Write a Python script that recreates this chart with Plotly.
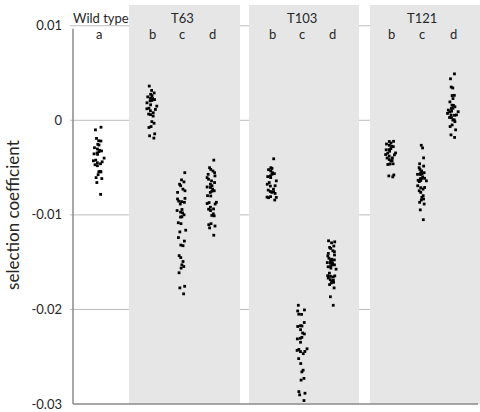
import plotly.graph_objects as go

# ---------------- data (selection coefficients) ----------------
group_names = ["Wild type", "T63", "T103", "T121"]
sub_labels = [["a"], ["b", "c", "d"], ["b", "c", "d"], ["b", "c", "d"]]
y_tick_vals = [-0.03, -0.02, -0.01, 0.0, 0.01]
y_tick_text = ["-0.03", "-0.02", "-0.01", "0", "0.01"]

wt_a = [-0.00073, -0.00101, -0.00191, -0.00216, -0.00219, -0.00254, -0.00261, -0.00290,
        -0.00303, -0.00317, -0.00324, -0.00331, -0.00345, -0.00355, -0.00360, -0.00400,
        -0.00421, -0.00428, -0.00439, -0.00449, -0.00460, -0.00470, -0.00480, -0.00543,
        -0.00540, -0.00546, -0.00574, -0.00606, -0.00616, -0.00658, -0.00783]

t63_b = [0.00362, 0.00316, 0.00289, 0.00275, 0.00261, 0.00248, 0.00233, 0.00230, 0.00219,
         0.00210, 0.00206, 0.00185, 0.00164, 0.00150, 0.00128, 0.00122, 0.00115, 0.00101,
         0.00080, 0.00066, 0.00060, 0.00045, -0.00014, -0.00031, -0.00066, -0.00076,
         -0.00143, -0.00164, -0.00188]

t63_c = [-0.00554, -0.00630, -0.00651, -0.00676, -0.00692, -0.00728, -0.00745, -0.00762,
         -0.00867, -0.00885, -0.00979, -0.00943, -0.01083, -0.01180, -0.01240, -0.01326,
         -0.01431, -0.01528, -0.01612, -0.01755, -0.01835, -0.00832, -0.00860, -0.00999,
         -0.01023, -0.01093, -0.01162, -0.01319, -0.01452, -0.01493, -0.01546, -0.01563,
         -0.01772, -0.00825, -0.00855, -0.00954, -0.00971, -0.01020, -0.01277]

t63_d = [-0.00421, -0.00501, -0.00519, -0.00536, -0.00554, -0.00571, -0.00588, -0.00606,
         -0.00623, -0.00640, -0.00658, -0.00676, -0.00692, -0.00710, -0.00705, -0.00728,
         -0.00745, -0.00762, -0.00797, -0.00867, -0.00885, -0.00880, -0.00937, -0.00989,
         -0.01006, -0.01093, -0.01118, -0.01138, -0.01215, -0.00750, -0.00800, -0.00870,
         -0.00919, -0.00940, -0.00954, -0.01010, -0.01104]

t103_b = [-0.00407, -0.00501, -0.00509, -0.00522, -0.00536, -0.00554, -0.00564, -0.00571,
          -0.00588, -0.00595, -0.00606, -0.00640, -0.00658, -0.00676, -0.00692, -0.00695,
          -0.00728, -0.00738, -0.00752, -0.00755, -0.00762, -0.00773, -0.00807, -0.00815,
          -0.00812, -0.00818, -0.00843]

t103_c = [-0.01956, -0.02005, -0.02016, -0.02050, -0.02052, -0.02138, -0.02172, -0.02175,
          -0.02180, -0.02214, -0.02249, -0.02259, -0.02295, -0.02305, -0.02311, -0.02347,
          -0.02416, -0.02423, -0.02433, -0.02444, -0.02446, -0.02468, -0.02520, -0.02572,
          -0.02642, -0.02660, -0.02729, -0.02747, -0.02869, -0.02886, -0.02903, -0.02963]

t103_d = [-0.01274, -0.01295, -0.01344, -0.01389, -0.01424, -0.01476, -0.01493, -0.01528,
          -0.01546, -0.01643, -0.01657, -0.01702, -0.01285, -0.01329, -0.01355, -0.01379,
          -0.01407, -0.01434, -0.01459, -0.01483, -0.01511, -0.01469, -0.01515, -0.01563,
          -0.01616, -0.01650, -0.01685, -0.01713, -0.01737, -0.01772, -0.01866, -0.01956,
          -0.01504, -0.01530, -0.01549, -0.01645, -0.01668, -0.01692, -0.01720, -0.01574]

t121_b = [-0.00222, -0.00251, -0.00275, -0.00300, -0.00327, -0.00362, -0.00397, -0.00425,
          -0.00460, -0.00224, -0.00264, -0.00310, -0.00365, -0.00399, -0.00431, -0.00467,
          -0.00588, -0.00240, -0.00278, -0.00312, -0.00345, -0.00379, -0.00415, -0.00348,
          -0.00462, -0.00578, -0.00598]

t121_c = [-0.00264, -0.00292, -0.00397, -0.00460, -0.00484, -0.00501, -0.00536, -0.00571,
          -0.00598, -0.00519, -0.00554, -0.00573, -0.00613, -0.00634, -0.00556, -0.00615,
          -0.00640, -0.00564, -0.00617, -0.00636, -0.00648, -0.00692, -0.00710, -0.00728,
          -0.00832, -0.00843, -0.00712, -0.00762, -0.00815, -0.00885, -0.00947, -0.00745,
          -0.00797, -0.00867, -0.01051]

t121_d = [0.00491, 0.00439, 0.00352, 0.00342, 0.00264, 0.00195, 0.00160, 0.00125, 0.00091,
          0.00055, 0.00028, 0.00262, 0.00230, 0.00158, 0.00127, 0.00097, 0.00073, 0.00053,
          0.00003, -0.00049, -0.00101, -0.00154, -0.00181, 0.00143, 0.00108, 0.00089,
          0.00057, 0.00030, -0.00014, -0.00066, 0.00005]

series = [[wt_a], [t63_b, t63_c, t63_d], [t103_b, t103_c, t103_d], [t121_b, t121_c, t121_d]]

# ---------------- layout geometry (x axis in pixel-like units) ----------------
W, H = 480, 412
ML, MT, MB = 73, 5, 1
XR = W - ML                       # x range length in px units
Y_BOT, Y_TOP_TICK = -0.03, 0.01
px_per_unit = 383 / 0.04          # 0.01 at px 26, -0.03 at px 409
y_top = Y_TOP_TICK + (26 - MT) / px_per_unit
y_bot = Y_BOT - (H - MB - 409) / px_per_unit

group_base = [26, 79, 199, 318]   # x of first sub-column in each group
group_step = [30, 30, 30, 31]
band_edges = [None, (56, 167), (176, 286), (297, 410)]

def ypx(p):
    return Y_TOP_TICK + (26 - p) / px_per_unit

fig = go.Figure()
ink = "#262626"
for gi, (gname, subs) in enumerate(zip(group_names, sub_labels)):
    for si, lab in enumerate(subs):
        xpos = group_base[gi] + group_step[gi] * si
        vals = series[gi][si]
        fig.add_trace(go.Box(
            y=vals, x0=xpos, width=13, boxpoints="all", jitter=0.9, pointpos=0,
            line=dict(width=0), fillcolor="rgba(0,0,0,0)",
            marker=dict(symbol="square", size=2.8, color="#000000"),
            hoverinfo="skip", showlegend=False))
        fig.add_annotation(x=xpos, y=ypx(34.5), xref="x", yref="y", text=lab,
                           showarrow=False, font=dict(size=13, color=ink),
                           xanchor="center", yanchor="middle")
    mid = group_base[gi] + group_step[gi] * (len(subs) - 1) / 2
    hx = mid + (2 if gi == 0 else 0)
    fig.add_annotation(x=hx, y=ypx(18.5), xref="x", yref="y", text=gname,
                       showarrow=False, font=dict(size=13, color=ink),
                       xanchor="center", yanchor="middle")
    if band_edges[gi]:
        x0, x1 = band_edges[gi]
        fig.add_shape(type="rect", xref="x", yref="y", x0=x0, x1=x1,
                      y0=Y_BOT, y1=y_top, fillcolor="#e6e6e6", line=dict(width=0),
                      layer="below")

for v in y_tick_vals[1:]:
    fig.add_shape(type="line", xref="paper", yref="y", x0=-3 / XR, x1=396 / XR,
                  y0=v, y1=v, line=dict(color="#bdbdbd", width=1), layer="below")

# axis lines
fig.add_shape(type="line", xref="paper", yref="y", x0=0, x1=0, y0=Y_BOT, y1=ypx(29),
              line=dict(color="#8a8a8a", width=1.5), layer="above")
fig.add_shape(type="line", xref="paper", yref="y", x0=0, x1=405 / XR, y0=Y_BOT, y1=Y_BOT,
              line=dict(color="#8a8a8a", width=1.5), layer="above")

fig.add_annotation(x=-60 / XR, y=-0.01, xref="paper", yref="y",
                   text="selection coefficient", textangle=-90, showarrow=False,
                   font=dict(size=17, color=ink), xanchor="center", yanchor="middle")

fig.update_layout(
    width=W, height=H, margin=dict(l=ML, r=0, t=MT, b=MB),
    paper_bgcolor="white", plot_bgcolor="white",
    font=dict(family="Lato, 'Open Sans', sans-serif", color=ink),
    boxmode="overlay",
    xaxis=dict(range=[0, XR], showgrid=False, zeroline=False, showline=False,
               showticklabels=False, ticks=""),
    yaxis=dict(range=[y_bot, y_top], tickvals=y_tick_vals, ticktext=y_tick_text,
               showgrid=False, zeroline=False, showline=False, ticks="",
               tickfont=dict(size=13, color=ink), ticklabelstandoff=10,
               ticklabeloverflow="allow"),
)

fig.write_html("out.html")
